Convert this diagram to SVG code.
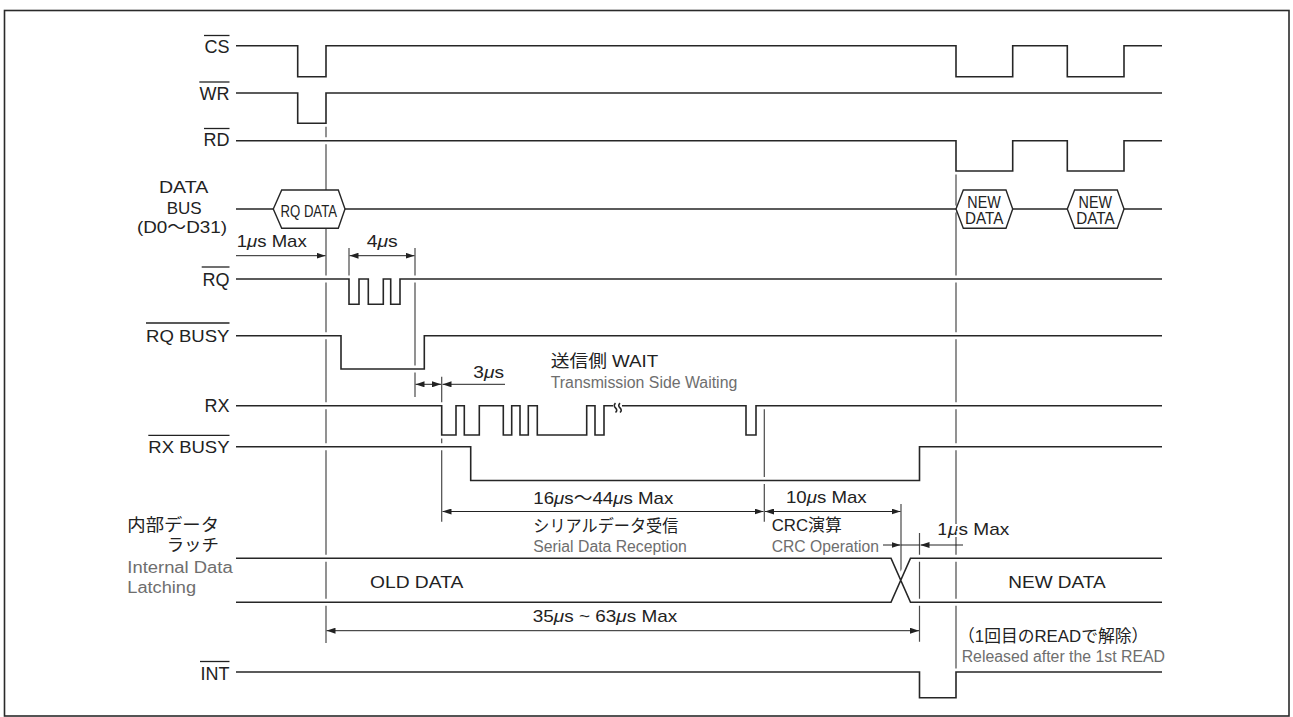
<svg xmlns="http://www.w3.org/2000/svg" width="1293" height="717" viewBox="0 0 1293 717">
<style>
text{font-family:"Liberation Sans","Noto Sans CJK JP",Arial,sans-serif;fill:#222;font-size:17px}
.s{font-size:18px}
.g{fill:#6e6e6e;font-size:16px}
.mu{font-style:italic}
.sig{fill:none;stroke:#262626;stroke-width:1.6}
.halo{fill:none;stroke:#fff;stroke-width:7}
.ref{fill:none;stroke:#4a4a4a;stroke-width:1.2}
.dim{fill:none;stroke:#222;stroke-width:1}
.ov{stroke:#222;stroke-width:1.3}
.hex{fill:#fff;stroke:#262626;stroke-width:1.4}
.ht{font-size:16px}
.wh{stroke:#fff;stroke-width:4;paint-order:stroke}
</style>
<defs>
<marker id="ar" viewBox="0 0 9 6" refX="9" refY="3" markerWidth="9" markerHeight="6" markerUnits="userSpaceOnUse" orient="auto-start-reverse">
<path d="M0,0L9,3L0,6z" fill="#222"/>
</marker>
<path id="p-cs" d="M236,45.7H297.7V76.7H326V45.7H956V76.7H1012.7V45.7H1067.3V76.7H1124V45.7H1162"/>
<path id="p-wr" d="M236,93H297.7V123.3H326V93H1162"/>
<path id="p-rd" d="M236,140.7H956V171H1012.7V140.7H1067.3V171H1124V140.7H1162"/>
<path id="p-bus" d="M236,209H273.3M345,209H956M1012.7,209H1067.3M1124,209H1162"/>
<path id="p-rq" d="M236,279H349V304.3H359V279H368.3V304.3H383.3V279H390.7V304.3H400V279H1162"/>
<path id="p-rqb" d="M236,335.7H341V369H424.3V335.7H1162"/>
<path id="p-rx" d="M236,405.7H441.7V435H456V405.7H464.3V435H479.3V405.7H503.3V435H511.7V405.7H520V435H528.3V405.7H537.3V435H586.7V405.7H595V435H604V405.7H613M622,405.7H746V435H756V405.7H1162"/>
<path id="p-rxb" d="M236,446.7H470.7V480.5H919.5V446.7H1162"/>
<path id="p-lt" d="M236,558.3H891L910.5,602.3H1162M236,602.3H891L910.5,558.3H1162"/>
<path id="p-int" d="M236,672H919.5V697.7H956V672H1162"/>
</defs>
<rect x="4.5" y="10.5" width="1284.5" height="705.5" fill="#fff" stroke="#2a2a2a" stroke-width="1.6"/>
<g id="connectors">
<path class="ref" d="M326,123V643M349,248V279M415,248V397M441.7,376.7V521.7M764.3,405V521.7M901,504V580M919.5,533V641.7M956,174V672"/>
<path class="dim" d="M236,255.7H325.5" marker-end="url(#ar)"/>
<path class="dim" d="M349.5,255.7H414.5" marker-start="url(#ar)" marker-end="url(#ar)"/>
<path class="dim" d="M415.5,384.3H441" marker-start="url(#ar)" marker-end="url(#ar)"/>
<path class="dim" d="M442.5,384.3H505" marker-start="url(#ar)"/>
<path class="dim" d="M442.5,511.5H763.5" marker-start="url(#ar)" marker-end="url(#ar)"/>
<path class="dim" d="M765,511.5H900.5" marker-start="url(#ar)" marker-end="url(#ar)"/>
<path class="dim" d="M883,545H900.5" marker-end="url(#ar)"/>
<path class="dim" d="M901,545H919.5"/>
<path class="dim" d="M920.5,545H963" marker-start="url(#ar)"/>
<path class="dim" d="M326.5,630.7H919" marker-start="url(#ar)" marker-end="url(#ar)"/>
</g>
<g id="crossing-gaps">
<use href="#p-cs" class="halo"/><use href="#p-wr" class="halo"/><use href="#p-rd" class="halo"/><use href="#p-bus" class="halo"/><use href="#p-rq" class="halo"/><use href="#p-rqb" class="halo"/><use href="#p-rx" class="halo"/><use href="#p-rxb" class="halo"/><use href="#p-lt" class="halo"/><use href="#p-int" class="halo"/>
</g>
<g id="cs">
<use href="#p-cs" class="sig"/>
<text class="s" x="229.5" y="53.3" text-anchor="end">CS</text>
<line class="ov" x1="204" y1="35.5" x2="229.5" y2="35.5"/>
</g>
<g id="wr">
<use href="#p-wr" class="sig"/>
<text class="s" x="229.5" y="99.5" text-anchor="end">WR</text>
<line class="ov" x1="199.3" y1="82" x2="229.5" y2="82"/>
</g>
<g id="rd">
<use href="#p-rd" class="sig"/>
<text class="s" x="229.5" y="146" text-anchor="end">RD</text>
<line class="ov" x1="204" y1="128.5" x2="229.5" y2="128.5"/>
</g>
<g id="databus">
<use href="#p-bus" class="sig"/>
<polygon class="hex" points="273.3,209 281.7,190 338.3,190 345,209 338.3,228.3 281.7,228.3"/>
<polygon class="hex" points="956,209 963.3,190 1006,190 1012.7,209 1006,228.3 963.3,228.3"/>
<polygon class="hex" points="1067.3,209 1074.6,190 1117.3,190 1124,209 1117.3,228.3 1074.6,228.3"/>
<text class="ht" x="280.5" y="216.7" textLength="56.5" lengthAdjust="spacingAndGlyphs">RQ DATA</text>
<text class="ht" x="967.3" y="207.5" textLength="33.4" lengthAdjust="spacingAndGlyphs" style="font-size:17px">NEW</text>
<text class="ht" x="965" y="224" textLength="38.3" lengthAdjust="spacingAndGlyphs" style="font-size:17px">DATA</text>
<text class="ht" x="1078.6" y="207.5" textLength="33.4" lengthAdjust="spacingAndGlyphs" style="font-size:17px">NEW</text>
<text class="ht" x="1076.3" y="224" textLength="38.3" lengthAdjust="spacingAndGlyphs" style="font-size:17px">DATA</text>
<text x="183.6" y="193.3" text-anchor="middle" textLength="49.3" lengthAdjust="spacingAndGlyphs">DATA</text>
<text x="184.2" y="214.3" text-anchor="middle" textLength="35" lengthAdjust="spacingAndGlyphs">BUS</text>
<text x="137" y="233.3" textLength="90" lengthAdjust="spacingAndGlyphs">(D0〜D31)</text>
</g>
<g id="rq">
<use href="#p-rq" class="sig"/>
<text class="s" x="229.5" y="285.5" text-anchor="end">RQ</text>
<line class="ov" x1="201.7" y1="267" x2="229.5" y2="267"/>
</g>
<g id="rqbusy">
<use href="#p-rqb" class="sig"/>
<text x="146" y="341.7" textLength="83.5" lengthAdjust="spacingAndGlyphs">RQ BUSY</text>
<line class="ov" x1="146" y1="323" x2="229.5" y2="323"/>
</g>
<g id="rx">
<use href="#p-rx" class="sig"/>
<path class="sig" stroke-width="1.2" d="M615.5,412.5q2.5,-2.2 0,-4.6q-2.5,-2.4 0,-4.8M620,412.5q2.5,-2.2 0,-4.6q-2.5,-2.4 0,-4.8"/>
<text class="s" x="229.5" y="411.7" text-anchor="end">RX</text>
</g>
<g id="rxbusy">
<use href="#p-rxb" class="sig"/>
<text x="148.3" y="453.3" textLength="81.2" lengthAdjust="spacingAndGlyphs">RX BUSY</text>
<line class="ov" x1="148.3" y1="435.3" x2="229.5" y2="435.3"/>
</g>
<g id="latch">
<use href="#p-lt" class="sig"/>
<text x="127.3" y="530.5" textLength="91.7" lengthAdjust="spacingAndGlyphs">内部データ</text>
<text x="166.7" y="551" textLength="52.3" lengthAdjust="spacingAndGlyphs">ラッチ</text>
<text class="g" x="127.3" y="572.7" textLength="105.4" lengthAdjust="spacingAndGlyphs">Internal Data</text>
<text class="g" x="127.3" y="593" textLength="68.7" lengthAdjust="spacingAndGlyphs">Latching</text>
<text x="370" y="588.3" textLength="93.3" lengthAdjust="spacingAndGlyphs">OLD DATA</text>
<text x="1008.3" y="588.3" textLength="97.4" lengthAdjust="spacingAndGlyphs">NEW DATA</text>
</g>
<g id="int">
<use href="#p-int" class="sig"/>
<text class="s" x="229.5" y="679.5" text-anchor="end">INT</text>
<line class="ov" x1="200" y1="661.5" x2="229.5" y2="661.5"/>
</g>
<g id="annotations">
<text x="236.7" y="247.2" textLength="70" lengthAdjust="spacingAndGlyphs">1<tspan class="mu">μ</tspan>s Max</text>
<text x="366.7" y="247.2" textLength="31" lengthAdjust="spacingAndGlyphs">4<tspan class="mu">μ</tspan>s</text>
<text x="473.3" y="377.7" textLength="30.7" lengthAdjust="spacingAndGlyphs">3<tspan class="mu">μ</tspan>s</text>
<text x="550.7" y="367.3" textLength="107.6" lengthAdjust="spacingAndGlyphs">送信側 WAIT</text>
<text class="g" x="550.7" y="388.3" textLength="186.6" lengthAdjust="spacingAndGlyphs">Transmission Side Waiting</text>
<text x="533.3" y="504" textLength="140" lengthAdjust="spacingAndGlyphs">16<tspan class="mu">μ</tspan>s〜44<tspan class="mu">μ</tspan>s Max</text>
<text x="533.3" y="531.7" textLength="145" lengthAdjust="spacingAndGlyphs">シリアルデータ受信</text>
<text class="g" x="533.3" y="551.7" textLength="153.4" lengthAdjust="spacingAndGlyphs">Serial Data Reception</text>
<text x="786" y="503.3" textLength="80.7" lengthAdjust="spacingAndGlyphs">10<tspan class="mu">μ</tspan>s Max</text>
<text x="771.7" y="531" textLength="70" lengthAdjust="spacingAndGlyphs">CRC演算</text>
<text class="g" x="771.7" y="552" textLength="107.3" lengthAdjust="spacingAndGlyphs">CRC Operation</text>
<text class="wh" x="937.3" y="535" textLength="72" lengthAdjust="spacingAndGlyphs">1<tspan class="mu">μ</tspan>s Max</text>
<text x="532.7" y="621.7" textLength="144.6" lengthAdjust="spacingAndGlyphs">35<tspan class="mu">μ</tspan>s ~ 63<tspan class="mu">μ</tspan>s Max</text>
<text x="958" y="641.7" textLength="190.3" lengthAdjust="spacingAndGlyphs">（1回目のREADで解除）</text>
<text class="g" x="961.7" y="661.7" textLength="203.3" lengthAdjust="spacingAndGlyphs">Released after the 1st READ</text>
</g>
</svg>
